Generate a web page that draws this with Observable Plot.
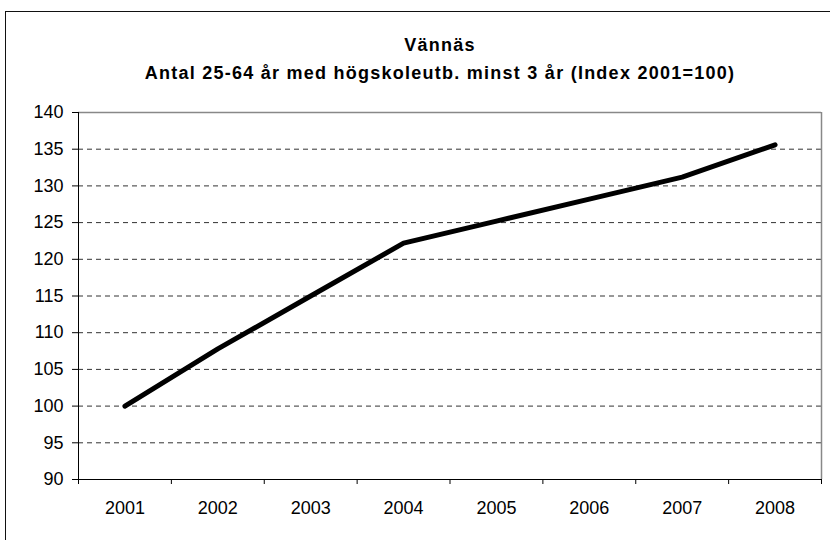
<!DOCTYPE html>
<html>
<head>
<meta charset="utf-8">
<script src="https://cdn.jsdelivr.net/npm/d3@7"></script>
<script src="https://cdn.jsdelivr.net/npm/@observablehq/plot@0.6"></script>
<style>
  html, body { margin: 0; padding: 0; background: #fff; overflow: hidden; }
  #wrap { position: relative; width: 830px; height: 540px; }
  #border { position: absolute; left: 5px; top: 11px; width: 840px; height: 560px; border: 1px solid #111; box-sizing: border-box; }
  #chart { position: absolute; left: 0; top: 0; }
  .ttl text { letter-spacing: 1.25px; }
</style>
</head>
<body>
<div id="wrap"><div id="border"></div><div id="chart"></div></div>
<script>
const title = "Vännäs";
const subtitle = "Antal 25-64 år med högskoleutb. minst 3 år (Index 2001=100)";
const years = ["2001", "2002", "2003", "2004", "2005", "2006", "2007", "2008"];
const values = [100, 107.8, 115, 122.2, 125.2, 128.2, 131.2, 135.6];
const yTicks = [90, 95, 100, 105, 110, 115, 120, 125, 130, 135, 140];

const data = years.map((year, i) => ({year, i, value: values[i]}));
const centers = years.map((_, i) => i + 0.5);
const bounds = d3.range(years.length + 1);
const font = "'Liberation Sans', Arial, sans-serif";

const chart = Plot.plot({
  width: 830,
  height: 540,
  marginLeft: 78,
  marginRight: 9,
  marginTop: 112,
  marginBottom: 61,
  style: {fontFamily: font, fontSize: "18px", color: "#000", background: "transparent"},
  x: {domain: [0, years.length], axis: null},
  y: {domain: [90, 140], axis: null},
  marks: [
    Plot.gridY(yTicks.filter(v => v > 90 && v < 140), {stroke: "#333", strokeOpacity: 1, strokeDasharray: "5,4"}),
    Plot.ruleY([140], {stroke: "#888", strokeWidth: 1.5}),
    Plot.ruleX([years.length], {stroke: "#888", strokeWidth: 1.5}),
    Plot.ruleX([0], {stroke: "#000"}),
    Plot.ruleY([90], {stroke: "#000"}),
    Plot.axisY({ticks: yTicks, tickSize: 6, tickPadding: 9, tickFormat: d => String(d), label: null, fontSize: 18, stroke: "#000"}),
    Plot.axisX({ticks: bounds, tickSize: 5, tickFormat: () => "", label: null, stroke: "#000"}),
    Plot.axisX({ticks: centers, tickSize: 0, tickPadding: 22, tickFormat: d => years[Math.round(d - 0.5)], label: null, fontSize: 18}),
    Plot.line(data, {x: d => d.i + 0.5, y: "value", stroke: "#000", strokeWidth: 5, strokeLinecap: "round", strokeLinejoin: "round"}),
    Plot.text([title], {frameAnchor: "top", dx: -10, dy: -62, lineAnchor: "bottom", text: d => d, fontWeight: "bold", fontSize: 18, fill: "#000", className: "ttl"}),
    Plot.text([subtitle], {frameAnchor: "top", dx: -10, dy: -34, lineAnchor: "bottom", text: d => d, fontWeight: "bold", fontSize: 18, fill: "#000", className: "ttl"})
  ]
});
document.getElementById("chart").appendChild(chart);
</script>
</body>
</html>
